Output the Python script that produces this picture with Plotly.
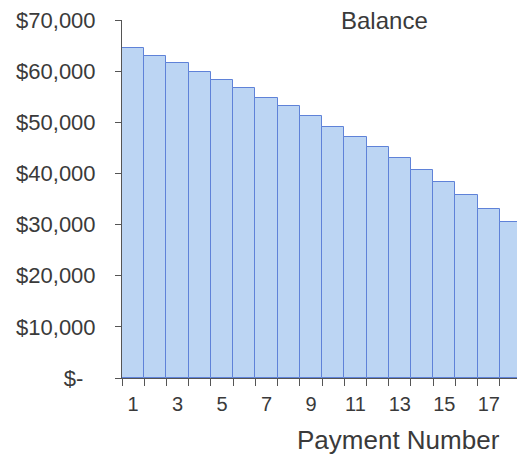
import plotly.graph_objects as go

payment_numbers = [str(i) for i in range(1, 19)]
balances = [64500, 63000, 61570, 59930, 58300, 56730, 54830, 53140, 51300,
            49150, 47190, 45230, 42950, 40600, 38310, 35700, 33080, 30470]
x_tick_labels = ["1", "", "3", "", "5", "", "7", "", "9", "", "11", "", "13", "", "15", "", "17", ""]
y_tick_values = [0, 10000, 20000, 30000, 40000, 50000, 60000, 70000]
y_tick_labels = ["$-\u00a0\u00a0", "$10,000", "$20,000", "$30,000", "$40,000", "$50,000", "$60,000", "$70,000"]
chart_title = "Balance"
x_title = "Payment Number"

text_color = "#3a3a3a"
axis_color = "#555555"

fig = go.Figure(go.Bar(
    x=payment_numbers,
    y=balances,
    marker=dict(color="#bcd5f3", line=dict(color="#5f82d8", width=1)),
))

fig.update_layout(
    width=517, height=446,
    margin=dict(l=114, r=4, t=12, b=76),
    paper_bgcolor="white", plot_bgcolor="white",
    bargap=0,
    showlegend=False,
    font=dict(family="Liberation Sans, Arial, sans-serif", color=text_color),
)

fig.update_xaxes(
    type="category",
    range=[-0.5, 17.45],
    tickmode="array", tickvals=payment_numbers, ticktext=x_tick_labels,
    tickson="boundaries",
    ticks="outside", ticklen=7, tickcolor=axis_color, tickwidth=1,
    showline=True, linecolor=axis_color, linewidth=1,
    showgrid=False, zeroline=False,
    tickfont=dict(size=20, color=text_color),
    tickangle=0,
    ticklabelstandoff=8,
    automargin=False,
)

fig.update_yaxes(
    range=[0, 70000],
    tickmode="array", tickvals=y_tick_values, ticktext=y_tick_labels,
    ticks="outside", ticklen=6, tickcolor=axis_color, tickwidth=1,
    showline=True, linecolor=axis_color, linewidth=1,
    showgrid=False, zeroline=False,
    tickfont=dict(size=22, color=text_color),
    ticklabelstandoff=15,
    ticklabeloverflow="allow",
    automargin=False,
)

fig.add_annotation(
    text=chart_title, xref="paper", yref="paper",
    x=0.659, y=0.998, xanchor="center", yanchor="middle",
    showarrow=False, font=dict(size=24, color=text_color),
)
fig.add_annotation(
    text=x_title, xref="paper", yref="paper",
    x=0.694, y=-0.172, xanchor="center", yanchor="middle",
    showarrow=False, font=dict(size=26, color=text_color),
)

fig.write_html("out.html")
